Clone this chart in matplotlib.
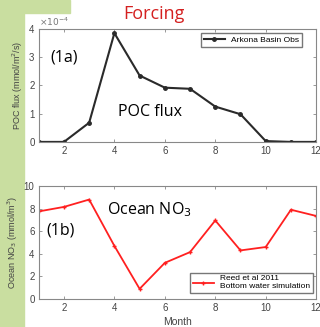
import numpy as np
import matplotlib.pyplot as plt
from matplotlib.patches import Rectangle

months = np.arange(1, 13)
poc_flux = [0, 0, 0.68, 3.85, 2.35, 1.92, 1.88, 1.25, 0.98, 0.03, 0, 0]  # x 1e-4
ocean_no3 = [7.75, 8.15, 8.8, 4.7, 0.9, 3.2, 4.15, 6.95, 4.3, 4.6, 7.9, 7.35]

plt.rcParams['font.family'] = ['Liberation Sans', 'DejaVu Sans']
plt.rcParams['font.size'] = 6

fig = plt.figure(figsize=(3.2, 3.27), dpi=100)
fig.patch.set_facecolor('white')

# greenish map strip behind the figure (screenshot background)
fig.patches.append(Rectangle((0, 0), 24 / 320, 1, transform=fig.transFigure,
                             color='#c9dea0', zorder=-10))
fig.patches.append(Rectangle((0, 1 - 13 / 327), 70 / 320, 13 / 327,
                             transform=fig.transFigure, color='#c9dea0', zorder=-10))

frame = '#888888'
txt = '#444444'
ann_font = ['Open Sans', 'DejaVu Sans']

ax1 = fig.add_axes([0.121, 0.566, 0.867, 0.3456])
ax1.plot(months, poc_flux, '-o', color='#2a2a2a', lw=1.5, ms=2.5, label='Arkona Basin Obs')
ax1.set_xlim(1, 12)
ax1.set_ylim(0, 4)
ax1.set_xticks([2, 4, 6, 8, 10, 12])
ax1.set_yticks([0, 1, 2, 3, 4])
ax1.set_ylabel(r'POC flux (mmol/m$^2$/s)', color=txt, fontsize=6.5, labelpad=3)
ax1.text(0.0, 1.01, r'$\times10^{-4}$', transform=ax1.transAxes, color='#777777',
         fontsize=6.5, va='bottom')
ax1.text(1.45, 3.0, '(1a)', fontsize=11.5, family=ann_font, va='center')
ax1.text(5.4, 1.05, 'POC flux', fontsize=11.5, family=ann_font, ha='center', va='center')
ax1.legend(loc='upper right', bbox_to_anchor=(0.95, 0.96), fontsize=6,
           frameon=True, fancybox=False, edgecolor='#555555',
           handlelength=2.5, borderpad=0.35, borderaxespad=0)

ax2 = fig.add_axes([0.121, 0.0856, 0.867, 0.3456])
ax2.plot(months, ocean_no3, '-+', color='#ff2020', lw=1.3, ms=3,
         label='Reed et al 2011\nBottom water simulation')
ax2.set_xlim(1, 12)
ax2.set_ylim(0, 10)
ax2.set_xticks([2, 4, 6, 8, 10, 12])
ax2.set_yticks([0, 2, 4, 6, 8, 10])
ax2.set_ylabel(r'Ocean NO$_3$ (mmol/m$^3$)', color=txt, fontsize=6.5, labelpad=3)
ax2.set_xlabel('Month', color=txt, fontsize=7.5, labelpad=3)
ax2.text(1.3, 6.05, '(1b)', fontsize=11.5, family=ann_font, va='center')
ax2.text(5.4, 7.95, r'Ocean NO$_3$', fontsize=11.5, family=ann_font, ha='center', va='center')
ax2.legend(loc='lower right', bbox_to_anchor=(0.99, 0.05), fontsize=6,
           frameon=True, fancybox=False, edgecolor='#555555',
           handlelength=2.5, borderpad=0.35, borderaxespad=0)

for ax in (ax1, ax2):
    for s in ax.spines.values():
        s.set_color(frame)
        s.set_linewidth(0.8)
    ax.tick_params(direction='in', length=2, width=0.6, colors=frame,
                   labelcolor=txt, labelsize=7, top=True, right=True, pad=3)

fig.text(0.48, 0.958, 'Forcing', color='#d42020', fontsize=13,
         family=ann_font, ha='center', va='center')

fig.savefig('out.png', dpi=100)
